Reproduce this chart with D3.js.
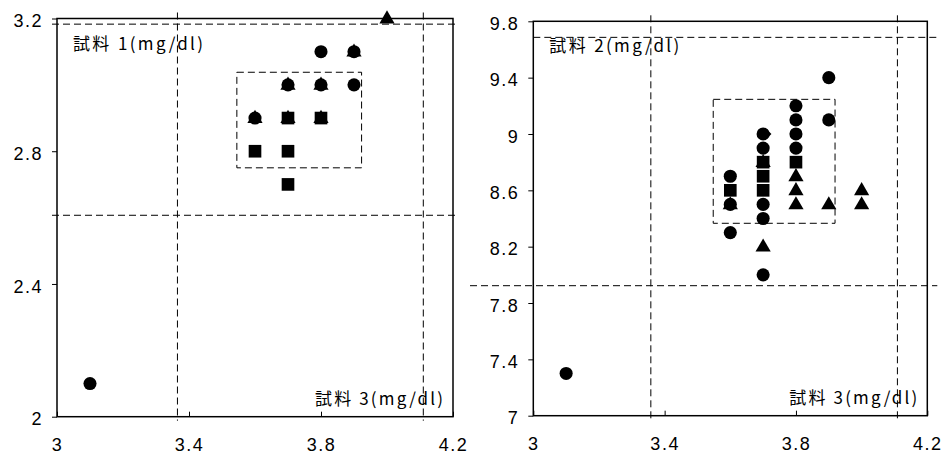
<!DOCTYPE html>
<html><head><meta charset="utf-8">
<script src="https://cdn.jsdelivr.net/npm/d3@7"></script>
<style>
html,body{margin:0;padding:0;background:#fff;}
svg{display:block;}
</style></head>
<body>
<script>
// ---------- DATA ----------
const xTicks = [3, 3.4, 3.8, 4.2];
const xLabels = ["3", "3.4", "3.8", "4.2"];

// Panel 1: 試料1 vs 試料3
const y1Ticks = [2, 2.4, 2.8, 3.2];
const y1Labels = ["2", "2.4", "2.8", "3.2"];
const p1CircleX = [3.1, 3.8, 3.9, 3.7, 3.8, 3.9, 3.6];
const p1CircleY = [2.1, 3.1, 3.1, 3.0, 3.0, 3.0, 2.9];
const p1SquareX = [3.7, 3.8, 3.6, 3.7, 3.7];
const p1SquareY = [2.9, 2.9, 2.8, 2.8, 2.7];
const p1TriX = [4.0, 3.9, 3.7, 3.8, 3.6, 3.7, 3.8];
const p1TriY = [3.2, 3.1, 3.0, 3.0, 2.9, 2.9, 2.9];
const p1RefX = [3.365, 4.11];
const p1RefY = [2.607, 3.183];
const p1BoxX = [3.545, 3.923];
const p1BoxY = [2.75, 3.038];

// Panel 2: 試料2 vs 試料3
const y2Ticks = [7, 7.4, 7.8, 8.2, 8.6, 9, 9.4, 9.8];
const y2Labels = ["7", "7.4", "7.8", "8.2", "8.6", "9", "9.4", "9.8"];
const p2CircleX = [3.1, 3.6, 3.6, 3.6, 3.7, 3.7, 3.7, 3.7, 3.7, 3.8, 3.8, 3.8, 3.8, 3.9, 3.9];
const p2CircleY = [7.3, 8.7, 8.5, 8.3, 9.0, 8.9, 8.5, 8.4, 8.0, 9.2, 9.1, 9.0, 8.9, 9.4, 9.1];
const p2SquareX = [3.6, 3.7, 3.7, 3.7, 3.8];
const p2SquareY = [8.6, 8.8, 8.7, 8.6, 8.8];
const p2TriX = [3.6, 3.7, 3.7, 3.8, 3.8, 3.8, 3.9, 4.0, 4.0];
const p2TriY = [8.5, 8.8, 8.2, 8.7, 8.6, 8.5, 8.5, 8.6, 8.5];
const p2DiamondX = [3.7];
const p2DiamondY = [9.0];
const p2RefX = [3.358, 4.109];
const p2RefY = [7.923, 9.686];
const p2BoxX = [3.548, 3.919];
const p2BoxY = [8.366, 9.246];

const W = 943, H = 456;
const svg = d3.select("body").append("svg").attr("width", W).attr("height", H);

const numFont = "'Liberation Sans', Arial, sans-serif";
const jpFont = "'Noto Sans CJK JP', 'Noto Sans CJK SC', sans-serif";

function zip(xs, ys) { return xs.map((x, i) => ({x: x, y: ys[i]})); }

function panel(cfg) {
  const x = d3.scaleLinear().domain([3, 4.2]).range([cfg.left, cfg.right]);
  const y = d3.scaleLinear().domain(cfg.yDomain).range([cfg.bottom, cfg.top]);
  const g = svg.append("g");

  // reference dashed lines
  const dash = "7,4";
  cfg.refX.forEach(v => {
    g.append("line").attr("x1", x(v)).attr("x2", x(v))
      .attr("y1", cfg.top - 6).attr("y2", cfg.bottom + 4)
      .attr("stroke", "#000").attr("stroke-width", 1).attr("stroke-dasharray", dash);
  });
  cfg.refY.forEach((v, i) => {
    g.append("line").attr("x1", cfg.hLeft[i]).attr("x2", cfg.right + cfg.hRightExt)
      .attr("y1", y(v)).attr("y2", y(v))
      .attr("stroke", "#000").attr("stroke-width", 1).attr("stroke-dasharray", dash);
  });
  g.append("rect")
    .attr("x", x(cfg.boxX[0])).attr("y", y(cfg.boxY[1]))
    .attr("width", x(cfg.boxX[1]) - x(cfg.boxX[0]))
    .attr("height", y(cfg.boxY[0]) - y(cfg.boxY[1]))
    .attr("fill", "none").attr("stroke", "#000").attr("stroke-width", 1)
    .attr("stroke-dasharray", dash);

  // frame
  g.append("rect").attr("x", cfg.left).attr("y", cfg.top)
    .attr("width", cfg.right - cfg.left).attr("height", cfg.bottom - cfg.top)
    .attr("fill", "none").attr("stroke", "#000").attr("stroke-width", 1.5);

  // axes
  const yAxis = d3.axisLeft(y).tickValues(cfg.yTicks)
    .tickFormat((d, i) => cfg.yLabels[i]).tickSize(5).tickPadding(9);
  const ya = g.append("g").attr("transform", `translate(${cfg.left},0)`).call(yAxis);
  const xAxis = d3.axisBottom(x).tickValues(xTicks)
    .tickFormat((d, i) => xLabels[i]).tickSize(-5).tickPadding(22);
  const xa = g.append("g").attr("transform", `translate(0,${cfg.bottom})`).call(xAxis);
  [ya, xa].forEach(a => {
    a.select(".domain").remove();
    a.selectAll(".tick line").attr("stroke", "#000").attr("stroke-width", 1);
    a.selectAll(".tick text").attr("fill", "#000")
      .style("font-family", numFont).style("font-size", "18px")
      .style("letter-spacing", "1.5px");
  });
  ya.selectAll(".tick text").attr("dy", "0.45em");

  // markers
  const tri = d3.symbol().type(d3.symbolTriangle).size(100);
  const sq = d3.symbol().type(d3.symbolSquare).size(160);
  const ci = d3.symbol().type(d3.symbolCircle).size(135);
  const di = d3.symbol().type(d3.symbolSquare).size(80);
  g.selectAll(".tri").data(zip(cfg.triX, cfg.triY)).join("path")
    .attr("d", tri).attr("transform", d => `translate(${x(d.x)},${y(d.y) + 0.5})`).attr("fill", "#000");
  if (cfg.diaX) {
    g.selectAll(".dia").data(zip(cfg.diaX, cfg.diaY)).join("path")
      .attr("d", di).attr("transform", d => `translate(${x(d.x) + 2},${y(d.y)}) rotate(45)`).attr("fill", "#000");
  }
  g.selectAll(".sq").data(zip(cfg.sqX, cfg.sqY)).join("path")
    .attr("d", sq).attr("transform", d => `translate(${x(d.x)},${y(d.y)})`).attr("fill", "#000");
  g.selectAll(".ci").data(zip(cfg.ciX, cfg.ciY)).join("path")
    .attr("d", ci).attr("transform", d => `translate(${x(d.x)},${y(d.y)})`).attr("fill", "#000");

  // labels
  g.append("text").attr("x", cfg.left + 16).attr("y", cfg.top + 31)
    .attr("textLength", 130).attr("lengthAdjust", "spacing")
    .style("font-family", jpFont).style("font-size", "17px").attr("fill", "#000")
    .text(cfg.title);
  g.append("text").attr("x", cfg.right - 138).attr("y", cfg.bottom - 12)
    .attr("textLength", 128).attr("lengthAdjust", "spacing")
    .style("font-family", jpFont).style("font-size", "17px").attr("fill", "#000")
    .text("試料 3(mg/dl)");
}

panel({
  left: 57, right: 453, top: 18.5, bottom: 416.7, yDomain: [2, 3.2],
  yTicks: y1Ticks, yLabels: y1Labels,
  ciX: p1CircleX, ciY: p1CircleY, sqX: p1SquareX, sqY: p1SquareY,
  triX: p1TriX, triY: p1TriY,
  refX: p1RefX, refY: p1RefY, boxX: p1BoxX, boxY: p1BoxY,
  hLeft: [52, 52], hRightExt: 5,
  title: "試料 1(mg/dl)"
});
panel({
  left: 533.3, right: 927.3, top: 21.3, bottom: 415.7, yDomain: [7, 9.8],
  yTicks: y2Ticks, yLabels: y2Labels,
  ciX: p2CircleX, ciY: p2CircleY, sqX: p2SquareX, sqY: p2SquareY,
  triX: p2TriX, triY: p2TriY, diaX: p2DiamondX, diaY: p2DiamondY,
  refX: p2RefX, refY: p2RefY, boxX: p2BoxX, boxY: p2BoxY,
  hLeft: [470, 533.3], hRightExt: 10,
  title: "試料 2(mg/dl)"
});
</script>
</body></html>
